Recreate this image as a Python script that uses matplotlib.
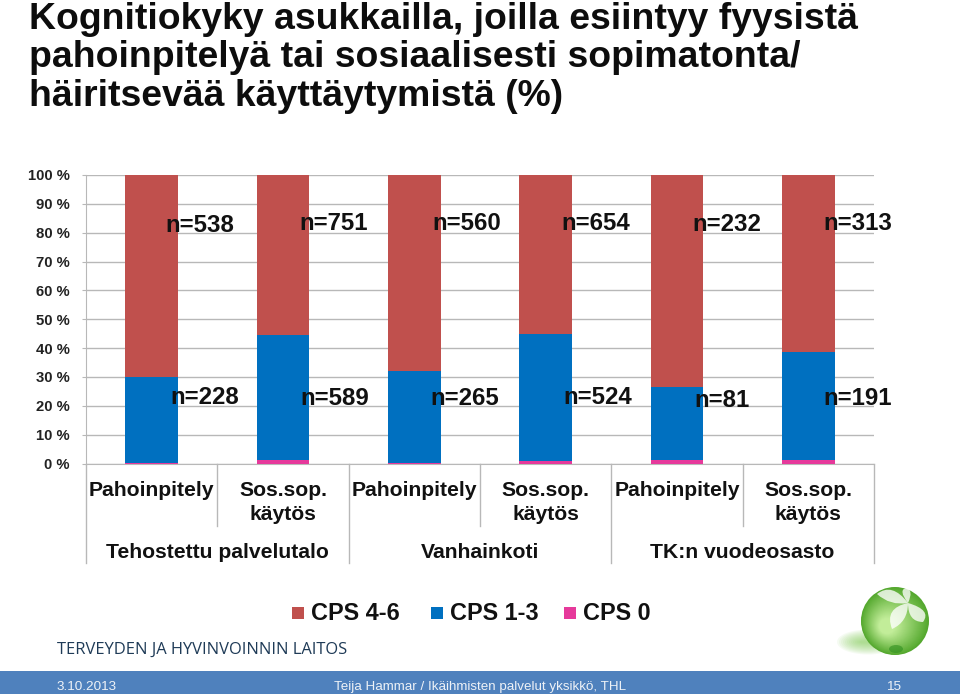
import numpy as np
import matplotlib
matplotlib.use('Agg')
import matplotlib.pyplot as plt
from matplotlib.patches import Ellipse, Rectangle, PathPatch
from matplotlib.path import Path

plt.rcParams['font.family'] = ['Liberation Sans', 'DejaVu Sans']

W, H = 960, 694

# data
groups = ['Tehostettu palvelutalo', 'Vanhainkoti', 'TK:n vuodeosasto']
categories = ['Pahoinpitely', 'Sos.sop.\nkäytös'] * 3
cps0 = [0.3, 1.1, 0.2, 0.8, 1.1, 1.1]
cps13 = [29.6, 43.3, 31.8, 44.0, 25.3, 37.4]
cps46 = [70.1, 55.6, 68.0, 55.2, 73.6, 61.5]
n_top = ['n=538', 'n=751', 'n=560', 'n=654', 'n=232', 'n=313']
n_bottom = ['n=228', 'n=589', 'n=265', 'n=524', 'n=81', 'n=191']
yticks = [0, 10, 20, 30, 40, 50, 60, 70, 80, 90, 100]
title_lines = ['Kognitiokyky asukkailla, joilla esiintyy fyysistä',
               'pahoinpitelyä tai sosiaalisesti sopimatonta/',
               'häiritsevää käyttäytymistä (%)']

red = '#C0504D'
blue = '#0070C0'
pink = '#E6399B'
grid = '#B8B8B8'
ink = '#111111'

fig = plt.figure(figsize=(W / 100, H / 100), dpi=100)

# overlay in pixel coordinates
bg = fig.add_axes([0, 0, 1, 1])
bg.set_xlim(0, W)
bg.set_ylim(H, 0)
bg.axis('off')
bg.set_zorder(5)
bg.patch.set_alpha(0)

ax = fig.add_axes([86 / W, 1 - 463.5 / H, 788 / W, 288.5 / H])
x = np.arange(6)
ax.bar(x, cps0, 0.4, color=pink, zorder=3)
ax.bar(x, cps13, 0.4, bottom=cps0, color=blue, zorder=3)
ax.bar(x, cps46, 0.4, bottom=np.add(cps0, cps13), color=red, zorder=3)
ax.set_xlim(-0.5, 5.5)
ax.set_ylim(0, 100)
ax.set_yticks(yticks)
ax.set_yticklabels(['%d %%' % v for v in yticks], fontsize=10.7, fontweight='bold', color='#222222')
ax.yaxis.grid(True, color=grid, lw=1)
ax.set_axisbelow(True)
ax.tick_params(axis='y', length=3, color=grid, pad=8.6)
ax.set_xticks([])
for s in ['top', 'right']:
    ax.spines[s].set_visible(False)
for s in ['left', 'bottom']:
    ax.spines[s].set_color(grid)

# category labels and separators below the axis
trans = ax.get_xaxis_transform()
for i, c in enumerate(categories):
    ax.text(i, -0.059, c, transform=trans, ha='center', va='top', fontsize=15.2,
            fontweight='bold', linespacing=1.36, color=ink)
for i in range(7):
    low = -0.345 if i % 2 == 0 else -0.217
    ax.plot([i - 0.5, i - 0.5], [0, low], transform=trans, color=grid, lw=1, clip_on=False)
for i, g in enumerate(groups):
    ax.text(2 * i + 0.5, -0.309, g, transform=trans, ha='center', va='center', fontsize=15.2,
            fontweight='bold', color=ink)

# sample size labels
top_x = [200, 334, 467, 596, 727, 858]
top_y = [225, 223, 223, 223, 224, 223]
bottom_x = [205, 335, 465, 598, 722, 858]
bottom_y = [397, 398, 398, 397, 400, 398]
for i in range(6):
    bg.text(top_x[i], top_y[i], n_top[i], ha='center', va='center', fontsize=17.3,
            fontweight='bold', color=ink)
    bg.text(bottom_x[i], bottom_y[i], n_bottom[i], ha='center', va='center', fontsize=17.3,
            fontweight='bold', color=ink)

# title
for line, ty in zip(title_lines, [29, 67, 106]):
    bg.text(29, ty, line, fontsize=26.9, fontweight='bold', color='#0D0D0D', ha='left', va='baseline')

# legend
legend = [('CPS 4-6', red, 292, 311), ('CPS 1-3', blue, 431, 450), ('CPS 0', pink, 564, 583)]
for label, col, bx, tx in legend:
    bg.add_patch(Rectangle((bx, 607), 12, 12, color=col, lw=0))
    bg.text(tx, 613, label, fontsize=16.9, fontweight='bold', ha='left', va='center', color=ink)

# organisation name
bg.text(57, 650, 'TERVEYDEN JA HYVINVOINNIN LAITOS', fontsize=11.9, color='#1F3B57',
        family=['Open Sans', 'DejaVu Sans'], ha='left', va='center')

# logo: shadow, shaded sphere, petals
for k in range(12):
    bg.add_patch(Ellipse((868, 642), 62 - 4 * k, 25 - 2 * k, color='#7CCB4E', alpha=0.07, lw=0))
for k in range(34):
    t = k / 33
    col = np.array([0.33, 0.66, 0.18]) * (1 - t) + np.array([0.76, 0.93, 0.60]) * t
    bg.add_patch(Ellipse((895 - 8 * t, 621 + 5 * t), 68 - 52 * t, 68 - 52 * t, color=col, lw=0))
bg.add_patch(Ellipse((896, 649), 14, 8, color='#2F8F1F', alpha=0.6, lw=0))


def petal(tip, side1, side2):
    base = (908, 603)
    verts = [base, side1, tip, side2, base]
    codes = [Path.MOVETO, Path.CURVE3, Path.CURVE3, Path.CURVE3, Path.CURVE3]
    verts = [base, side1, tip, side2, base]
    return PathPatch(Path(verts, codes), facecolor='white', alpha=0.78, lw=0)


bg.add_patch(petal((877, 594), (892, 582), (890, 606)))
bg.add_patch(petal((892, 629), (884, 608), (908, 622)))
bg.add_patch(petal((923, 622), (908, 622), (932, 610)))
bg.add_patch(petal((906, 588), (898, 590), (914, 590)))

# footer
bg.add_patch(Rectangle((0, 671), W, 23, color='#4F81BD', lw=0))
foot = '#EEF2F7'
bg.text(57, 687, '3.10.2013', fontsize=9.7, color=foot, ha='left', va='center')
bg.text(480, 687, 'Teija Hammar / Ikäihmisten palvelut yksikkö, THL', fontsize=9.6,
        color=foot, ha='center', va='center')
bg.text(894, 687, '15', fontsize=9.7, color=foot, ha='center', va='center')

fig.savefig('out.png', dpi=100)
